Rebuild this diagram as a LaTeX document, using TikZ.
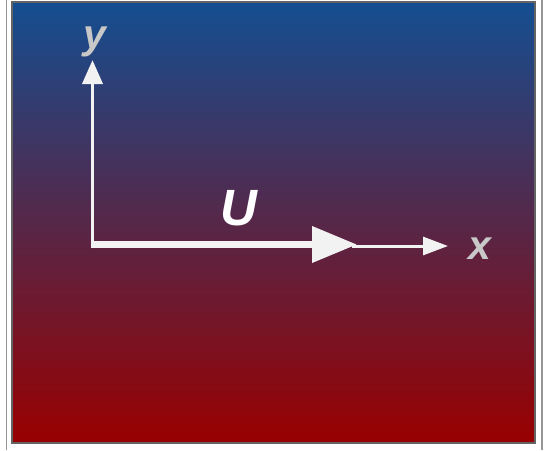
\documentclass[tikz,border=0pt]{standalone}
\usepackage{fontspec}
\setmainfont{Liberation Sans}
\usetikzlibrary{arrows.meta}
\definecolor{topblue}{RGB}{20,78,145}
\definecolor{botred}{RGB}{153,0,0}
\definecolor{framegray}{RGB}{100,100,100}
\definecolor{outergray}{RGB}{150,150,150}
\definecolor{axiswhite}{RGB}{242,242,242}
\definecolor{labelgray}{RGB}{200,200,200}
\tikzset{
  axisline/.style={draw=axiswhite, line width=3.8pt},
  uline/.style={draw=axiswhite, line width=7pt},
  axislabel/.style={text=labelgray, font=\fontsize{41}{48}\selectfont\bfseries\itshape, inner sep=0pt, anchor=base},
  ulabel/.style={text=white, font=\fontsize{51}{60}\selectfont\bfseries\itshape, inner sep=0pt, anchor=base},
}
\begin{document}
\begin{tikzpicture}[x=1pt,y=-1pt]
\useasboundingbox (0,0) rectangle (548,450);
% outer light frame lines
\draw[outergray, line width=1.5pt] (6.5,0) -- (6.5,450);
\draw[outergray, line width=1.5pt] (542,0) -- (542,450);
% gradient panel
\shade[top color=topblue, bottom color=botred] (12,2) rectangle (535,443);
\draw[framegray, line width=2pt] (12,2) rectangle (535,443);
% coordinates
\coordinate (corner) at (92.5,248);
\coordinate (O) at (90.5,244.5);
\coordinate (ytip) at (92.5,60);
\coordinate (uend) at (357,244.5);
\coordinate (xstart) at (352,246);
\coordinate (xtip) at (448,246);
% axes
\draw[axisline, -{Triangle[length=24pt,width=20pt]}, fill=axiswhite] (corner) -- (ytip);
\draw[axisline, line width=3pt, -{Triangle[length=25pt,width=18pt]}, fill=axiswhite] (xstart) -- (xtip);
\draw[uline, -{Triangle[length=45pt,width=35pt]}, fill=axiswhite] (O) -- (uend);
% labels
\node[axislabel] (ylab) at (95,48) {y};
\node[axislabel] (xlab) at (480,259) {x};
\node[ulabel] (ulab) at (239,225) {U};
\end{tikzpicture}
\end{document}
